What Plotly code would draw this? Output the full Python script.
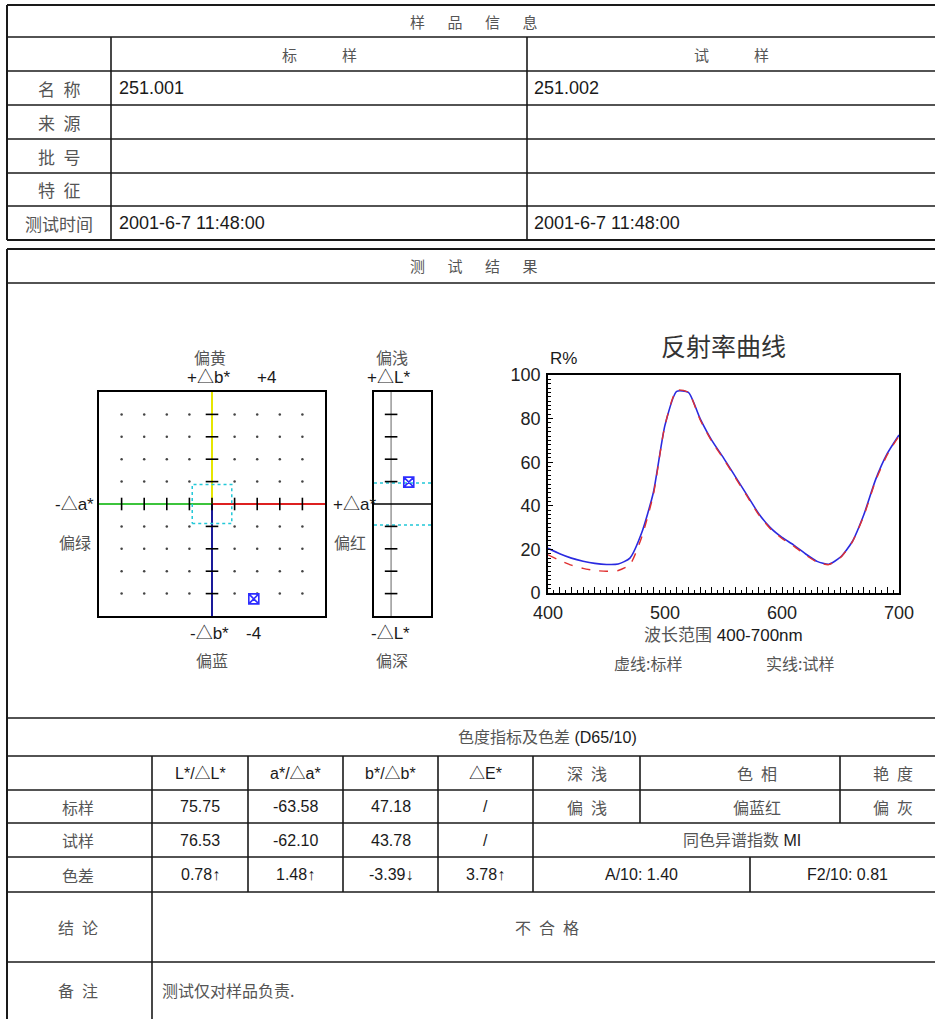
import plotly.graph_objects as go

W, H = 935, 1019

# ---------------- data ----------------
wavelengths = list(range(400, 701, 10))
r_sample = [20.5, 18.0, 16.0, 14.6, 13.6, 13.1, 13.3, 16.0, 27.5, 46.0, 77.0,
            92.5, 92.0, 80.0, 70.0, 62.0, 53.5, 45.0, 36.5, 30.0, 25.5,
            22.0, 18.0, 14.5, 13.2, 16.5, 23.5, 36.0, 52.0, 64.0, 72.5]
r_standard = [17.5, 15.0, 12.8, 11.3, 10.3, 10.0, 10.3, 13.0, 25.5, 45.0, 77.0,
              93.0, 92.0, 79.5, 69.5, 61.5, 53.0, 44.5, 36.0, 29.5, 25.0,
              21.5, 17.5, 14.2, 13.0, 16.3, 23.3, 35.5, 51.5, 63.5, 72.0]

ab_ticks = [-3.2, -2.4, -1.6, -0.8, 0.0, 0.8, 1.6, 2.4, 3.2]
ab_limit = 4
delta_L, delta_a, delta_b = 0.78, 1.48, -3.39
tol_ab = 0.7
tol_L = 0.75

info_labels = ["名\u2002称", "来\u2002源", "批\u2002号", "特\u2002征", "测试时间"]
std_info = ["251.001", "", "", "", "2001-6-7 11:48:00"]
smp_info = ["251.002", "", "", "", "2001-6-7 11:48:00"]

col_heads = ["L*/△L*", "a*/△a*", "b*/△b*", "△E*", "深\u2002浅", "色\u2002相", "艳\u2002度"]
std_row = ["75.75", "-63.58", "47.18", "/", "偏\u2002浅", "偏蓝红", "偏\u2002灰"]
smp_row = ["76.53", "-62.10", "43.78", "/"]
diff_row = ["0.78↑", "1.48↑", "-3.39↓", "3.78↑"]
mi_vals = ["A/10: 1.40", "F2/10: 0.81"]

# ---------------- helpers ----------------
LAT = "Liberation Sans, Arial, Noto Sans CJK SC"
CJK = "Noto Sans CJK SC, Liberation Sans"
GRAY = "#555555"
DARK = "#1a1a1a"
MARK = "#2d2dff"


def xd(px):
    return px / W


def yd(py):
    return 1 - py / H


fig = go.Figure()
annotations = []
shapes = []


def txt(x, y, s, size=15, color=DARK, family=LAT, anchor="center"):
    annotations.append(dict(x=x, y=y, xref="x", yref="y", text=s, showarrow=False,
                            xanchor=anchor, yanchor="middle",
                            font=dict(size=size, color=color, family=family)))


def hline(y, x0, x1, w=1.6):
    shapes.append(dict(type="line", xref="x", yref="y", x0=x0, x1=x1, y0=y, y1=y,
                       line=dict(color=DARK, width=w)))


def vline(x, y0, y1, w=1.6):
    shapes.append(dict(type="line", xref="x", yref="y", x0=x, x1=x, y0=y0, y1=y1,
                       line=dict(color=DARK, width=w)))


RIGHT = 960
# ---- table 1 ----
hline(5, 7, RIGHT, 2)
vline(7, 5, 240, 2)
for yy in [37, 71, 105, 139, 173, 206]:
    hline(yy, 7, RIGHT)
hline(240, 7, RIGHT, 2)
vline(111, 37, 240)
vline(527, 37, 240)

txt(474, 21, "样\u3000\u2002品\u3000\u2002信\u3000\u2002息", 15, GRAY, CJK)
txt(319, 54, "标\u3000\u3000\u3000样", 15, GRAY, CJK)
txt(731, 54, "试\u3000\u3000\u3000样", 15, GRAY, CJK)
row_c = [88, 122, 156, 189.5, 223]
for lab, a, b, yy in zip(info_labels, std_info, smp_info, row_c):
    txt(59, yy, lab, 17, GRAY, CJK)
    if a:
        txt(117, yy, a, 18, DARK, LAT, "left")
    if b:
        txt(532, yy, b, 18, DARK, LAT, "left")

# ---- box 2 ----
hline(249, 7, RIGHT, 2)
vline(7, 249, 1030, 2)
hline(283, 7, RIGHT)
txt(474, 265, "测\u3000\u2002试\u3000\u2002结\u3000\u2002果", 15, GRAY, CJK)

# ---- table 3 ----
for yy in [718, 756, 790, 823, 857, 892, 962]:
    hline(yy, 7, RIGHT)
vline(152, 756, 1030)
for xx in [248, 343, 438, 533]:
    vline(xx, 756, 892)
vline(640, 756, 823)
vline(840, 756, 823)
vline(750, 857, 892)

txt(547, 737, "<span style='color:#555'>色度指标及色差</span> (D65/10)", 16, DARK, LAT)
col_x = [200, 295.5, 390.5, 485.5, 587, 757, 893]
for s, xx in zip(col_heads, col_x):
    is_cjk = any(ord(c) > 0x3000 for c in s)
    txt(xx, 773, s, 16, GRAY if is_cjk else DARK, CJK if is_cjk else LAT)
LABX = 78
txt(LABX, 806.5, "标样", 16, GRAY, CJK)
for s, xx in zip(std_row, col_x):
    is_cjk = any(ord(c) > 0x3000 for c in s)
    txt(xx, 806.5, s, 16, GRAY if is_cjk else DARK, CJK if is_cjk else LAT)
txt(LABX, 840, "试样", 16, GRAY, CJK)
for s, xx in zip(smp_row, col_x):
    txt(xx, 840, s, 16, DARK, LAT)
txt(742, 840, "<span style='color:#555'>同色异谱指数</span> MI", 16, DARK, LAT)
txt(LABX, 874.5, "色差", 16, GRAY, CJK)
for s, xx in zip(diff_row, col_x):
    txt(xx, 874.5, s, 16, DARK, LAT)
txt(641, 874.5, mi_vals[0], 16, DARK, LAT)
txt(847, 874.5, mi_vals[1], 16, DARK, LAT)
txt(LABX, 927, "结\u2002论", 16, GRAY, CJK)
txt(547, 927, "不\u2002合\u2002格", 16, GRAY, CJK)
txt(LABX, 990, "备\u2002注", 16, GRAY, CJK)
txt(160, 990, "测试仅对样品负责.", 16, GRAY, CJK, "left")

# ---------------- a*b* chart ----------------
AB_X = (99, 325)
AB_Y = (392, 616)
L_X = (374, 431)
gx = [a for a in ab_ticks if a != 0 for b in ab_ticks if b != 0]
gy = [b for a in ab_ticks if a != 0 for b in ab_ticks if b != 0]
ab = dict(xaxis="x2", yaxis="y2", showlegend=False, hoverinfo="skip")
fig.add_trace(go.Scatter(x=gx, y=gy, mode="markers",
                         marker=dict(size=2.5, color="#444"), **ab))
fig.add_trace(go.Scatter(x=[-ab_limit, 0], y=[0, 0], mode="lines",
                         line=dict(color="#3cc43c", width=2), **ab))
fig.add_trace(go.Scatter(x=[0, ab_limit], y=[0, 0], mode="lines",
                         line=dict(color="#dd2020", width=2), **ab))
fig.add_trace(go.Scatter(x=[0, 0], y=[0, ab_limit], mode="lines",
                         line=dict(color="#e6e600", width=2), **ab))
fig.add_trace(go.Scatter(x=[0, 0], y=[-ab_limit, 0], mode="lines",
                         line=dict(color="#1a1a9a", width=2), **ab))
fig.add_trace(go.Scatter(x=[-tol_ab, tol_ab, tol_ab, -tol_ab, -tol_ab],
                         y=[-tol_ab, -tol_ab, tol_ab, tol_ab, -tol_ab], mode="lines",
                         line=dict(color="#22c8d8", width=1.5, dash="dot"), **ab))
fig.add_trace(go.Scatter(x=ab_ticks, y=[0] * len(ab_ticks), mode="markers",
                         marker=dict(symbol="line-ns", size=9,
                                     line=dict(color="black", width=1.6)), **ab))
vt = [b for b in ab_ticks if b != 0]
fig.add_trace(go.Scatter(x=[0] * len(vt), y=vt, mode="markers",
                         marker=dict(symbol="line-ew", size=9,
                                     line=dict(color="black", width=1.6)), **ab))
fig.add_trace(go.Scatter(x=[delta_a], y=[delta_b], mode="markers",
                         marker=dict(symbol="square-x-open", size=10, color=MARK,
                                     line=dict(width=1.6)), **ab))

# ---------------- L bar ----------------
lb = dict(xaxis="x3", yaxis="y3", showlegend=False, hoverinfo="skip")
fig.add_trace(go.Scatter(x=[0.3, 0.3], y=[-ab_limit, ab_limit], mode="lines",
                         line=dict(color="#999", width=1.5), **lb))
fig.add_trace(go.Scatter(x=[0, 1], y=[0, 0], mode="lines",
                         line=dict(color="black", width=1.6), **lb))
for t in (tol_L, -tol_L):
    fig.add_trace(go.Scatter(x=[0, 1], y=[t, t], mode="lines",
                             line=dict(color="#22c8d8", width=1.5, dash="dot"), **lb))
fig.add_trace(go.Scatter(x=[0.3] * len(vt), y=vt, mode="markers",
                         marker=dict(symbol="line-ew", size=9,
                                     line=dict(color="black", width=1.6)), **lb))
fig.add_trace(go.Scatter(x=[0.61], y=[delta_L], mode="markers",
                         marker=dict(symbol="square-x-open", size=10, color=MARK,
                                     line=dict(width=1.6)), **lb))

# ---------------- reflectance ----------------
RX = (548, 899)
RY = (375, 593)
fig.add_trace(go.Scatter(x=wavelengths, y=r_sample, mode="lines", name="试样",
                         line=dict(color="#2a2ae0", width=1.6, shape="spline", smoothing=0.6),
                         xaxis="x4", yaxis="y4", showlegend=False))
fig.add_trace(go.Scatter(x=wavelengths, y=r_standard, mode="lines", name="标样",
                         line=dict(color="#e03030", width=1.4, dash="dash", shape="spline", smoothing=0.6),
                         xaxis="x4", yaxis="y4", showlegend=False))

# chart labels
txt(210, 357, "偏黄", 16, GRAY, CJK)
txt(208, 377, "+△b*", 17, DARK, LAT)
txt(266, 377, "+4", 17, DARK, LAT)
txt(209, 633, "-△b*", 17, DARK, LAT)
txt(253, 633, "-4", 17, DARK, LAT)
txt(212, 660, "偏蓝", 16, GRAY, CJK)
txt(96, 504, "-△a*", 17, DARK, LAT, "right")
txt(75, 542, "偏绿", 16, GRAY, CJK)
txt(331, 504, "+△a*", 17, DARK, LAT, "left")
txt(350, 542, "偏红", 16, GRAY, CJK)
txt(392, 357, "偏浅", 16, GRAY, CJK)
txt(388, 377, "+△L*", 17, DARK, LAT)
txt(390, 633, "-△L*", 17, DARK, LAT)
txt(392, 660, "偏深", 16, GRAY, CJK)

txt(723, 345, "反射率曲线", 25, "#333", CJK)
txt(563, 358, "R%", 17, DARK, LAT)
txt(723, 635, "<span style='color:#555'>波长范围</span> 400-700nm", 17, DARK, LAT)
txt(648, 663, "虚线:标样", 16, GRAY, CJK)
txt(800, 663, "实线:试样", 16, GRAY, CJK)

hidden = dict(visible=False, showgrid=False, zeroline=False, fixedrange=True, automargin=False)
frame = dict(showline=True, mirror=True, linecolor="black", linewidth=1.8,
             showgrid=False, zeroline=False, showticklabels=False, ticks="",
             fixedrange=True, automargin=False)

fig.update_layout(
    template="none",
    width=W, height=H, margin=dict(l=0, r=0, t=0, b=0, pad=0, autoexpand=False),
    paper_bgcolor="white", plot_bgcolor="rgba(0,0,0,0)",
    showlegend=False,
    xaxis=dict(domain=[0, 1], range=[0, W], **hidden),
    yaxis=dict(domain=[0, 1], range=[H, 0], **hidden),
    xaxis2=dict(domain=[xd(AB_X[0]), xd(AB_X[1])], range=[-ab_limit, ab_limit], anchor="y2", **frame),
    yaxis2=dict(domain=[yd(AB_Y[1]), yd(AB_Y[0])], range=[-ab_limit, ab_limit], anchor="x2", **frame),
    xaxis3=dict(domain=[xd(L_X[0]), xd(L_X[1])], range=[0, 1], anchor="y3", **frame),
    yaxis3=dict(domain=[yd(AB_Y[1]), yd(AB_Y[0])], range=[-ab_limit, ab_limit], anchor="x3", **frame),
    xaxis4=dict(domain=[xd(RX[0]), xd(RX[1])], range=[400, 700], anchor="y4",
                tickmode="array", tickvals=wavelengths,
                ticktext=[str(w) if w % 100 == 0 else "" for w in wavelengths],
                ticks="inside", ticklen=6, tickwidth=1.3, tickcolor="black",
                ticklabelstandoff=3,
                minor=dict(dtick=5, ticks="inside", ticklen=3, tickcolor="black", tickwidth=1),
                showline=True, mirror=True, linecolor="black", linewidth=1.6,
                showgrid=False, zeroline=False, fixedrange=True, automargin=False,
                tickfont=dict(size=18, family=LAT, color="#222")),
    yaxis4=dict(domain=[yd(RY[1]), yd(RY[0])], range=[0, 100], anchor="x4",
                tickvals=[0, 20, 40, 60, 80, 100],
                ticks="inside", ticklen=5, tickwidth=1.3, tickcolor="black",
                ticklabelstandoff=2,
                minor=dict(dtick=2, ticks="inside", ticklen=3, tickcolor="black", tickwidth=1),
                showline=True, mirror=True, linecolor="black", linewidth=1.6,
                showgrid=False, zeroline=False, fixedrange=True, automargin=False,
                tickfont=dict(size=18, family=LAT, color="#222")),
    shapes=shapes,
    annotations=annotations,
)

fig.write_html("out.html")
